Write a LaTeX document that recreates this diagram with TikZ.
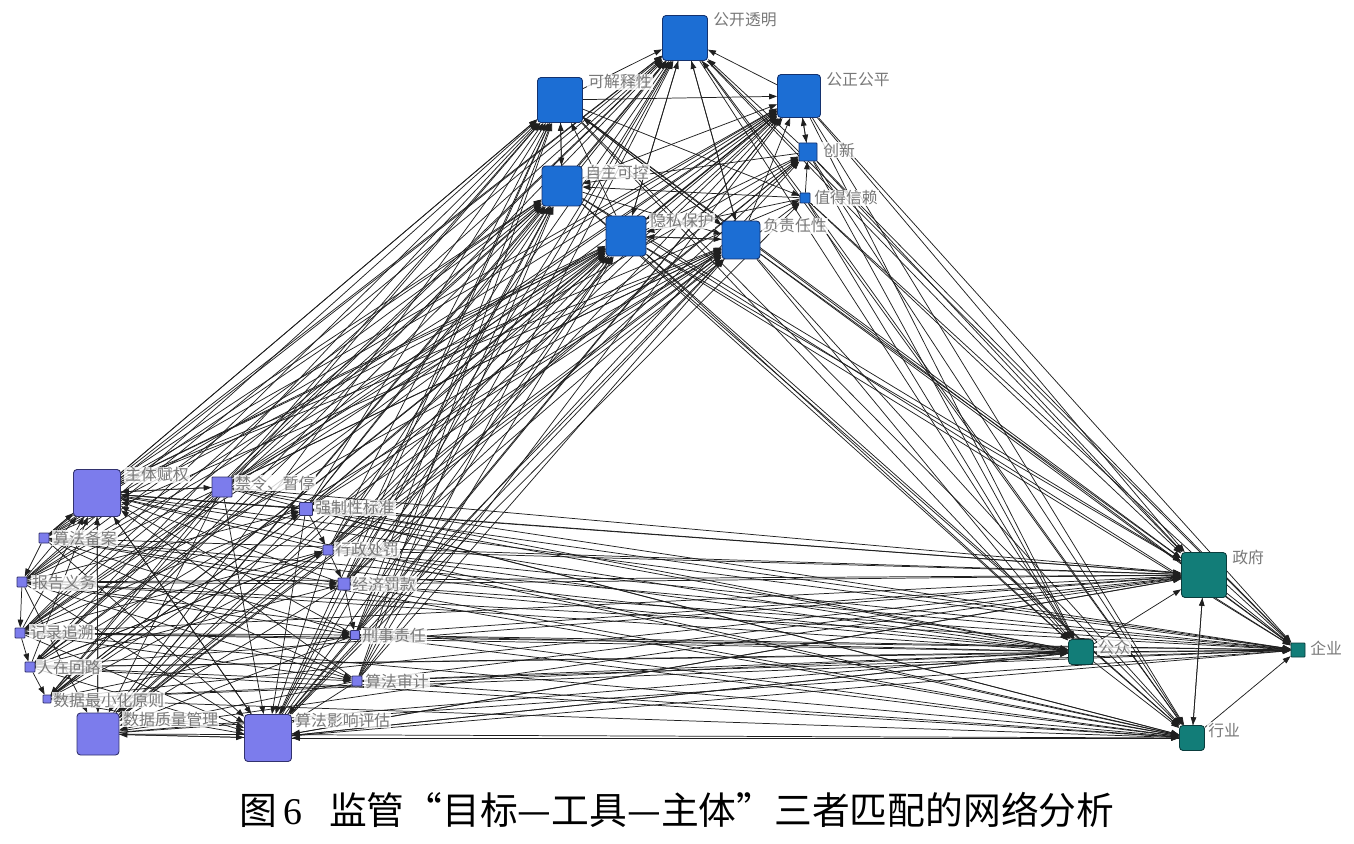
\documentclass[tikz,border=0pt]{standalone}
\usepackage{fontspec}
\newfontfamily\cjk{Noto Sans CJK SC}
\newfontfamily\sernum{Liberation Serif}
\usetikzlibrary{arrows.meta,backgrounds}
\definecolor{goalc}{RGB}{28,110,212}
\definecolor{goald}{RGB}{20,50,110}
\definecolor{toolc}{RGB}{124,124,236}
\definecolor{toold}{RGB}{50,50,110}
\definecolor{actc}{RGB}{18,125,120}
\definecolor{actd}{RGB}{10,60,60}
\definecolor{labc}{RGB}{120,120,120}
\tikzset{
 box/.style={draw, rounded corners=0.07cm, line width=0.5pt, inner sep=0pt, minimum size=#1},
 goal/.style={box=#1, fill=goalc, draw=goald},
 tool/.style={box=#1, fill=toolc, draw=toold},
 act/.style={box=#1, fill=actc, draw=actd},
 small/.style={rounded corners=0.015cm},
 lab/.style={anchor=west, text=labc, font=\cjk\fontsize{9}{10}\selectfont, inner sep=0.6pt,
   fill=white, fill opacity=0.8, text opacity=1},
 edge/.style={draw=black!88, line width=0.42pt, -{Triangle[length=4.5pt,width=3.2pt]}},
}
\begin{document}
\begin{tikzpicture}[x=0.02cm,y=-0.02cm]
\useasboundingbox (0,0) rectangle (1354,844);
% goals
\node[goal=0.9cm] (g1) at (685,38) {};
\node[goal=0.9cm] (g2) at (560,100) {};
\node[goal=0.86cm] (g3) at (799,96) {};
\node[goal=0.36cm, small] (g4) at (808,152) {};
\node[goal=0.2cm, small] (g5) at (805,198) {};
\node[goal=0.8cm] (g6) at (562,186) {};
\node[goal=0.8cm] (g7) at (626,236) {};
\node[goal=0.76cm] (g8) at (741,240) {};
% tools
\node[tool=0.94cm] (t1) at (97,493) {};
\node[tool=0.4cm, small] (t2) at (222,487) {};
\node[tool=0.26cm, small] (t3) at (306,509) {};
\node[tool=0.2cm, small] (t4) at (44,538) {};
\node[tool=0.2cm, small] (t5) at (328,550) {};
\node[tool=0.2cm, small] (t6) at (22,582) {};
\node[tool=0.24cm, small] (t7) at (344,584) {};
\node[tool=0.2cm, small] (t8) at (20,633) {};
\node[tool=0.18cm, small] (t9) at (355,635) {};
\node[tool=0.2cm, small] (t10) at (30,667) {};
\node[tool=0.2cm, small] (t11) at (357,681) {};
\node[tool=0.16cm, small] (t12) at (47,699) {};
\node[tool=0.84cm] (t13) at (98,734) {};
\node[tool=0.94cm] (t14) at (268,738) {};
% actors
\node[act=0.9cm] (a1) at (1204,575) {};
\node[act=0.5cm] (a2) at (1081,652) {};
\node[act=0.28cm, small] (a3) at (1298,650) {};
\node[act=0.5cm] (a4) at (1192,738) {};
% labels
\node[lab] (lg1) at (712,20) {公开透明};
\node[lab] (lg2) at (587,82) {可解释性};
\node[lab] (lg3) at (825,80) {公正公平};
\node[lab] (lg4) at (822,150) {创新};
\node[lab] (lg5) at (813,198) {值得信赖};
\node[lab] (lg6) at (584,172) {自主可控};
\node[lab] (lg7) at (649,221) {隐私保护};
\node[lab] (lg8) at (762,226) {负责任性};
\node[lab] (lt1) at (124,475) {主体赋权};
\node[lab] (lt2) at (234,483) {禁令、暂停};
\node[lab] (lt3) at (314,508) {强制性标准};
\node[lab] (lt4) at (52,538) {算法备案};
\node[lab] (lt5) at (334,550) {行政处罚};
\node[lab] (lt6) at (31,583) {报告义务};
\node[lab] (lt7) at (351,584) {经济罚款};
\node[lab] (lt8) at (29,632) {记录追溯};
\node[lab] (lt9) at (361,636) {刑事责任};
\node[lab] (lt10) at (36,667) {人在回路};
\node[lab] (lt11) at (364,681) {算法审计};
\node[lab] (lt12) at (52,700) {数据最小化原则};
\node[lab] (lt13) at (122,719) {数据质量管理};
\node[lab] (lt14) at (294,720) {算法影响评估};
\node[lab] (la1) at (1231,557) {政府};
\node[lab] (la2) at (1097,647) {公众};
\node[lab] (la3) at (1309,648) {企业};
\node[lab] (la4) at (1207,730) {行业};
% caption
\node[font=\cjk\fontsize{21.5}{24}\selectfont, inner sep=0pt] (cap) at (677,810)
 {图\,{\sernum 6}\hspace{0.7em}监管“目标—工具—主体”三者匹配的网络分析};
\begin{pgfonlayer}{background}
\fill[white] (0,0) rectangle (1354,844);
% tools -> main goals
\foreach \i in {1,...,14}{
  \foreach \j in {1,2,3,6,7,8}{
    \draw[edge] (t\i) -- (g\j);
  }
}
\foreach \i in {1,2,3,5,7,13,14}{ \draw[edge] (t\i) -- (g4); }
\foreach \i in {1,13,14}{ \draw[edge] (t\i) -- (g5); }
% tools -> actors
\foreach \i in {1,...,14}{
  \foreach \k in {1,...,4}{
    \draw[edge] (t\i) -- (a\k);
  }
}
% goals -> actors
\foreach \j in {1,...,8}{
  \foreach \k in {1,...,4}{
    \draw[edge] (g\j) -- (a\k);
  }
}
% tool -> tool
\foreach \s/\t in {t2/t1,t3/t1,t5/t1,t7/t1,t9/t1,t11/t1,t14/t1,t13/t1,t4/t1,t6/t1,t8/t1,t10/t1,
  t1/t14,t2/t14,t3/t14,t4/t14,t5/t14,t6/t14,t7/t14,t8/t14,t9/t14,t10/t14,t11/t14,t12/t14,t13/t14,
  t14/t13,t1/t13,t2/t13,t3/t13,t5/t13,t6/t13,t7/t13,t9/t13,t11/t13,
  t1/t2,t1/t3,t3/t5,t5/t7,t7/t9,t6/t8,t8/t10,t10/t12,t4/t6,
  t4/t7,t4/t9,t6/t3,t6/t7,t6/t9,t6/t11,t8/t3,t8/t5,t8/t9,t8/t11,t10/t5,t10/t7,t10/t11,
  t12/t5,t12/t9,t12/t3,t4/t11,t2/t8,t2/t10,t2/t12,t3/t12,t5/t10}{
  \draw[edge] (\s) -- (\t);
}
% goal -> goal
\foreach \s/\t in {g2/g1,g3/g1,g6/g1,g7/g1,g8/g1,g4/g1,g5/g1,g2/g3,g6/g2,g4/g3,g3/g4,g5/g4,
  g6/g3,g7/g3,g8/g3,g7/g2,g8/g2,g7/g8,g8/g7,g5/g6,g4/g6,g5/g7,g3/g7,g2/g8,g1/g7,g1/g8,g6/g8,g2/g5,g2/g6}{
  \draw[edge] (\s) -- (\t);
}
% actor -> actor and back to tools
\foreach \s/\t in {a2/a1,a1/a4,a4/a1,a4/a3,a1/a3,a2/a3,a2/a4,a4/t14,a2/t14,a1/t14}{
  \draw[edge] (\s) -- (\t);
}
\end{pgfonlayer}
\end{tikzpicture}
\end{document}
